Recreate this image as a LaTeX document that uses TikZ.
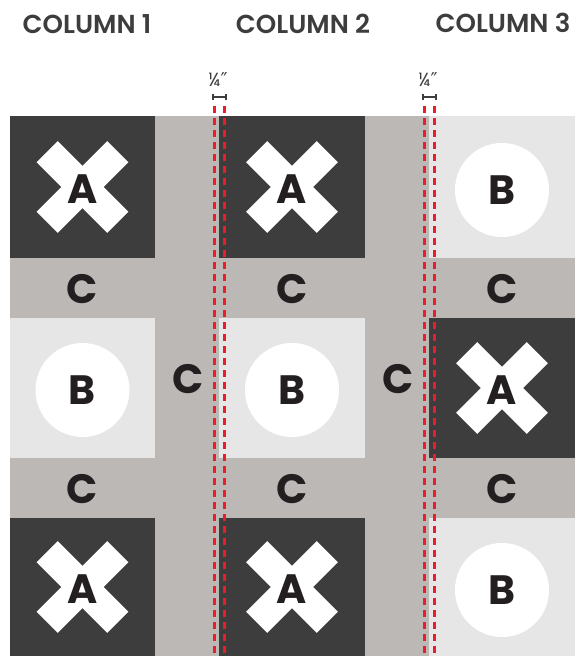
\documentclass[tikz,border=0pt]{standalone}
\usepackage{fontspec}
\setmainfont{Poppins}[BoldFont={Poppins Bold}]
\newfontfamily\semib{Poppins SemiBold}
\newfontfamily\dvs{DejaVu Sans}
\definecolor{cdark}{HTML}{3D3D3D}
\definecolor{cgray}{HTML}{BCB8B6}
\definecolor{clight}{HTML}{E6E6E6}
\definecolor{cletter}{HTML}{231F20}
\definecolor{cred}{HTML}{EC1C28}
\tikzset{
  heading/.style={inner sep=0pt, text=cdark, font=\fontsize{26}{26}\semib},
  letter/.style={inner sep=0pt, text=cletter, font=\fontsize{41}{41}\selectfont\bfseries},
  darksq/.style={fill=cdark},
  lightsq/.style={fill=clight},
  guide/.style={cred, line width=2.4pt, dash pattern=on 7pt off 5pt},
  dimline/.style={cdark, line width=1.2pt},
  dimlabel/.style={inner sep=0pt, text=cdark, font=\fontsize{19}{19}\selectfont},
}
\newcommand\xcross[2]{%
  \fill[white,shift={(#1,#2)},rotate=45] (-50,-15) rectangle (50,15);
  \fill[white,shift={(#1,#2)},rotate=-45] (-50,-15) rectangle (50,15);
}
\begin{document}
\begin{tikzpicture}[x=1pt,y=-1pt]
\useasboundingbox (0,0) rectangle (575,656);
% headings
\node[heading] (h1) at (87,24) {COLUMN 1};
\node[heading] (h2) at (303,24) {COLUMN 2};
\node[heading] (h3) at (503,22.5) {COLUMN 3};
% gray background
\fill[cgray] (10,116) rectangle (575,656);
% squares
\fill[darksq] (10,116) rectangle (155,258);
\fill[lightsq] (10,318) rectangle (155,458);
\fill[darksq] (10,518) rectangle (155,656);
\fill[darksq] (219,116) rectangle (365,258);
\fill[lightsq] (219,318) rectangle (365,458);
\fill[darksq] (219,518) rectangle (365,656);
\fill[lightsq] (429,116) rectangle (575,258);
\fill[darksq] (429,318) rectangle (575,458);
\fill[lightsq] (429,518) rectangle (575,656);
% crosses and circles
\xcross{82.5}{187}
\xcross{82.5}{587}
\xcross{292}{187}
\xcross{292}{587}
\xcross{502}{388}
\fill[white] (82.5,390) circle (47);
\fill[white] (292,390) circle (47);
\fill[white] (502,190) circle (47);
\fill[white] (502,590) circle (47);
% letters
\node[letter] (a11) at (82.5,189) {A};
\node[letter] (b12) at (82.5,390) {B};
\node[letter] (a13) at (82.5,589) {A};
\node[letter] (a21) at (292,189) {A};
\node[letter] (b22) at (292,390) {B};
\node[letter] (a23) at (292,589) {A};
\node[letter] (b31) at (502,190) {B};
\node[letter] (a32) at (502,390) {A};
\node[letter] (b33) at (502,590) {B};
\node[letter] (c1a) at (82.5,289) {C};
\node[letter] (c1b) at (82.5,489) {C};
\node[letter] (c2a) at (292,289) {C};
\node[letter] (c2b) at (292,489) {C};
\node[letter] (c3a) at (502,289) {C};
\node[letter] (c3b) at (502,489) {C};
\node[letter] (cv1) at (188,379) {C};
\node[letter] (cv2) at (398,379) {C};
% guides
\coordinate (g1t) at (214.5,106); \coordinate (g1b) at (214.5,656);
\coordinate (g2t) at (224.5,106); \coordinate (g2b) at (224.5,656);
\coordinate (g3t) at (424.5,106); \coordinate (g3b) at (424.5,656);
\coordinate (g4t) at (434.5,106); \coordinate (g4b) at (434.5,656);
\draw[guide] (g1t) -- (g1b);
\draw[guide] (g2t) -- (g2b);
\draw[guide] (g3t) -- (g3b);
\draw[guide] (g4t) -- (g4b);
% dimensions
\coordinate (d1l) at (213,97); \coordinate (d1r) at (226,97);
\coordinate (d2l) at (423,97); \coordinate (d2r) at (436,97);
\draw[dimline] (d1l) -- (d1r);
\draw[dimline] ([yshift=-3pt]d1l) -- ([yshift=3pt]d1l);
\draw[dimline] ([yshift=-3pt]d1r) -- ([yshift=3pt]d1r);
\draw[dimline] (d2l) -- (d2r);
\draw[dimline] ([yshift=-3pt]d2l) -- ([yshift=3pt]d2l);
\draw[dimline] ([yshift=-3pt]d2r) -- ([yshift=3pt]d2r);
\node[dimlabel] (q1) at (218,80) {¼{\dvs″}};
\node[dimlabel] (q2) at (428,80) {¼{\dvs″}};
\end{tikzpicture}
\end{document}
